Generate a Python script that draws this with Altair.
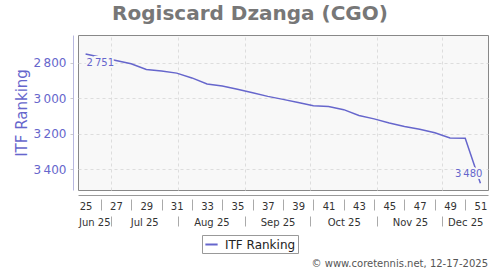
import datetime as dt
import altair as alt
import pandas as pd

# ---- data ----
weeks = list(range(25, 52))
ranking = [2751, 2770, 2788, 2806, 2838, 2847, 2859, 2886, 2920, 2931, 2950,
           2970, 2990, 3007, 3025, 3043, 3047, 3065, 3098, 3117, 3140, 3160,
           3176, 3195, 3225, 3226, 3480]
series_name = "ITF Ranking"
title_text = "Rogiscard Dzanga (CGO)"
credit_text = "© www.coretennis.net, 12-17-2025"
year = 2025
month_starts = [7, 8, 9, 10, 11, 12]
y_ticks = [2800, 3000, 3200, 3400]

BLUE = "#6666cc"


def week_mid(w):
    # Thursday noon of the ISO week
    return dt.datetime.fromisocalendar(year, w, 4) + dt.timedelta(hours=12)


def to_dt(d):
    return alt.DateTime(year=d.year, month=d.month, date=d.day,
                        hours=d.hour, utc=True)


dates = [week_mid(w) for w in weeks]
df = pd.DataFrame({
    "date": [d.strftime("%Y-%m-%dT%H:%M:%SZ") for d in dates],
    "rank": ranking,
    "series": [series_name] * len(weeks),
})

x_start = dt.datetime.fromisocalendar(year, weeks[0], 1)
x_end = dt.datetime.fromisocalendar(year, weeks[-1] + 1, 1)

month_dates = [dt.datetime(year, m, 1) for m in month_starts]
bounds = [x_start] + month_dates + [x_end]
month_mids = [bounds[i] + (bounds[i + 1] - bounds[i]) / 2 for i in range(len(bounds) - 1)]

odd_weeks = [week_mid(w) for w in weeks if w % 2 == 1]
even_weeks = [week_mid(w) for w in weeks if w % 2 == 0]

lab = pd.DataFrame({
    "date": [df["date"].iloc[0], df["date"].iloc[-1]],
    "rank": [ranking[0], ranking[-1]],
    "txt": [f"{ranking[0]:,}".replace(",", "\u2009"), f"{ranking[-1]:,}".replace(",", "\u2009")],
    "pos": ["first", "last"],
})
one = pd.DataFrame({"t": [credit_text]})

xscale = alt.Scale(type="utc", domain=[to_dt(x_start), to_dt(x_end)], nice=False)
yscale = alt.Scale(domain=[2644, 3518], reverse=True, nice=False, zero=False)

yaxis = alt.Axis(values=y_ticks, title=series_name, offset=5,
                 grid=True, gridDash=[3, 3], gridColor="#dddddd",
                 domainColor="#b8b8e0", ticks=True, tickSize=5,
                 tickColor="#cccccc", tickDash=[3, 2],
                 labelColor=BLUE, labelFontSize=12, labelPadding=2,
                 labelExpr="replace(format(datum.value, ','), ',', '\u2009')",
                 titleColor=BLUE, titleFontSize=15,
                 titleFontWeight="normal", titlePadding=4)


def xenc(axis):
    return alt.X("date:T", scale=xscale, axis=axis)


def yenc():
    return alt.Y("rank:Q", scale=yscale, axis=yaxis)


# line with grid axis + y axis
line = alt.Chart(df).mark_line(strokeWidth=1.5).encode(
    x=xenc(alt.Axis(orient="bottom", values=[to_dt(d) for d in month_dates],
                    grid=True, gridDash=[3, 3], gridColor="#dddddd",
                    labels=False, ticks=False, domain=False, title=None)),
    y=yenc(),
    color=alt.Color("series:N", scale=alt.Scale(domain=[series_name], range=[BLUE]),
                    legend=alt.Legend(title=None, orient="none", legendX=124,
                                      legendY=200, symbolType="stroke",
                                      symbolStrokeWidth=2, symbolSize=150,
                                      labelFontSize=12, labelColor="#222222",
                                      strokeColor="#999999", fillColor="white",
                                      padding=2, labelOffset=6)),
)

first = lab[lab["pos"] == "first"]
last = lab[lab["pos"] == "last"]

lab_first_bg = alt.Chart(first).mark_text(align="left", baseline="top", dx=1, dy=4,
                                          fontSize=10, stroke="#f8f8f8",
                                          strokeWidth=4, fill="#f8f8f8").encode(
    x=xenc(None), y=yenc(), text="txt:N")
lab_first = alt.Chart(first).mark_text(align="left", baseline="top", dx=1, dy=4,
                                       fontSize=10, color=BLUE).encode(
    x=xenc(None), y=yenc(), text="txt:N")
lab_last_bg = alt.Chart(last).mark_text(align="right", baseline="bottom", dx=2, dy=-4,
                                        fontSize=10, stroke="#f8f8f8",
                                        strokeWidth=4, fill="#f8f8f8").encode(
    x=xenc(None), y=yenc(), text="txt:N")
lab_last = alt.Chart(last).mark_text(align="right", baseline="bottom", dx=2, dy=-4,
                                     fontSize=10, color=BLUE).encode(
    x=xenc(None), y=yenc(), text="txt:N")

# week numbers axis
ax_weeks = alt.Chart(df).mark_point(opacity=0).encode(
    x=xenc(alt.Axis(orient="bottom", values=[to_dt(d) for d in odd_weeks],
                    labelExpr="utcFormat(datum.value, '%V')", offset=5, domain=True,
                    domainColor="#999999", ticks=False, labelPadding=6,
                    labelFontSize=10, labelColor="#333333", grid=False,
                    title=None, labelFlush=False, labelOverlap=False)),
    y=alt.value(0))

ax_week_sep = alt.Chart(df).mark_point(opacity=0).encode(
    x=xenc(alt.Axis(orient="bottom", values=[to_dt(d) for d in even_weeks],
                    offset=9, domain=False, ticks=True, tickSize=11,
                    tickColor="#aaaaaa", labels=False, grid=False, title=None)),
    y=alt.value(0))

ax_months = alt.Chart(df).mark_point(opacity=0).encode(
    x=xenc(alt.Axis(orient="bottom", values=[to_dt(d) for d in month_mids],
                    labelExpr="utcFormat(datum.value, '%b %y')", offset=27,
                    domain=False, ticks=False, labelPadding=0, labelFontSize=10,
                    labelColor="#333333", grid=False, title=None,
                    labelFlush=False, labelOverlap=False)),
    y=alt.value(0))

ax_month_sep = alt.Chart(df).mark_point(opacity=0).encode(
    x=xenc(alt.Axis(orient="bottom", values=[to_dt(d) for d in month_dates],
                    offset=26, domain=False, ticks=True, tickSize=10,
                    tickColor="#aaaaaa", labels=False, grid=False, title=None)),
    y=alt.value(0))

credit = alt.Chart(one).mark_text(align="right", baseline="alphabetic",
                                  fontSize=10, color="#555555").encode(
    x=alt.value(410), y=alt.value(232), text="t:N")

chart = alt.layer(
    line, lab_first_bg, lab_first, lab_last_bg, lab_last,
    ax_weeks, ax_week_sep, ax_months, ax_month_sep, credit,
).resolve_axis(x="independent").properties(
    width=410, height=155,
    padding={"left": 78, "top": 35, "right": 12, "bottom": 80},
    autosize=alt.AutoSizeParams(type="none"),
    title=alt.TitleParams(title_text, fontSize=20, fontWeight="bold",
                          color="#777777", anchor="middle", dx=-33, offset=8),
).configure(font="DejaVu Sans").configure_view(
    fill="#f8f8f8", stroke="#888888", strokeWidth=1)

chart.save("out.html", embed_options={"renderer": "svg", "actions": False})
